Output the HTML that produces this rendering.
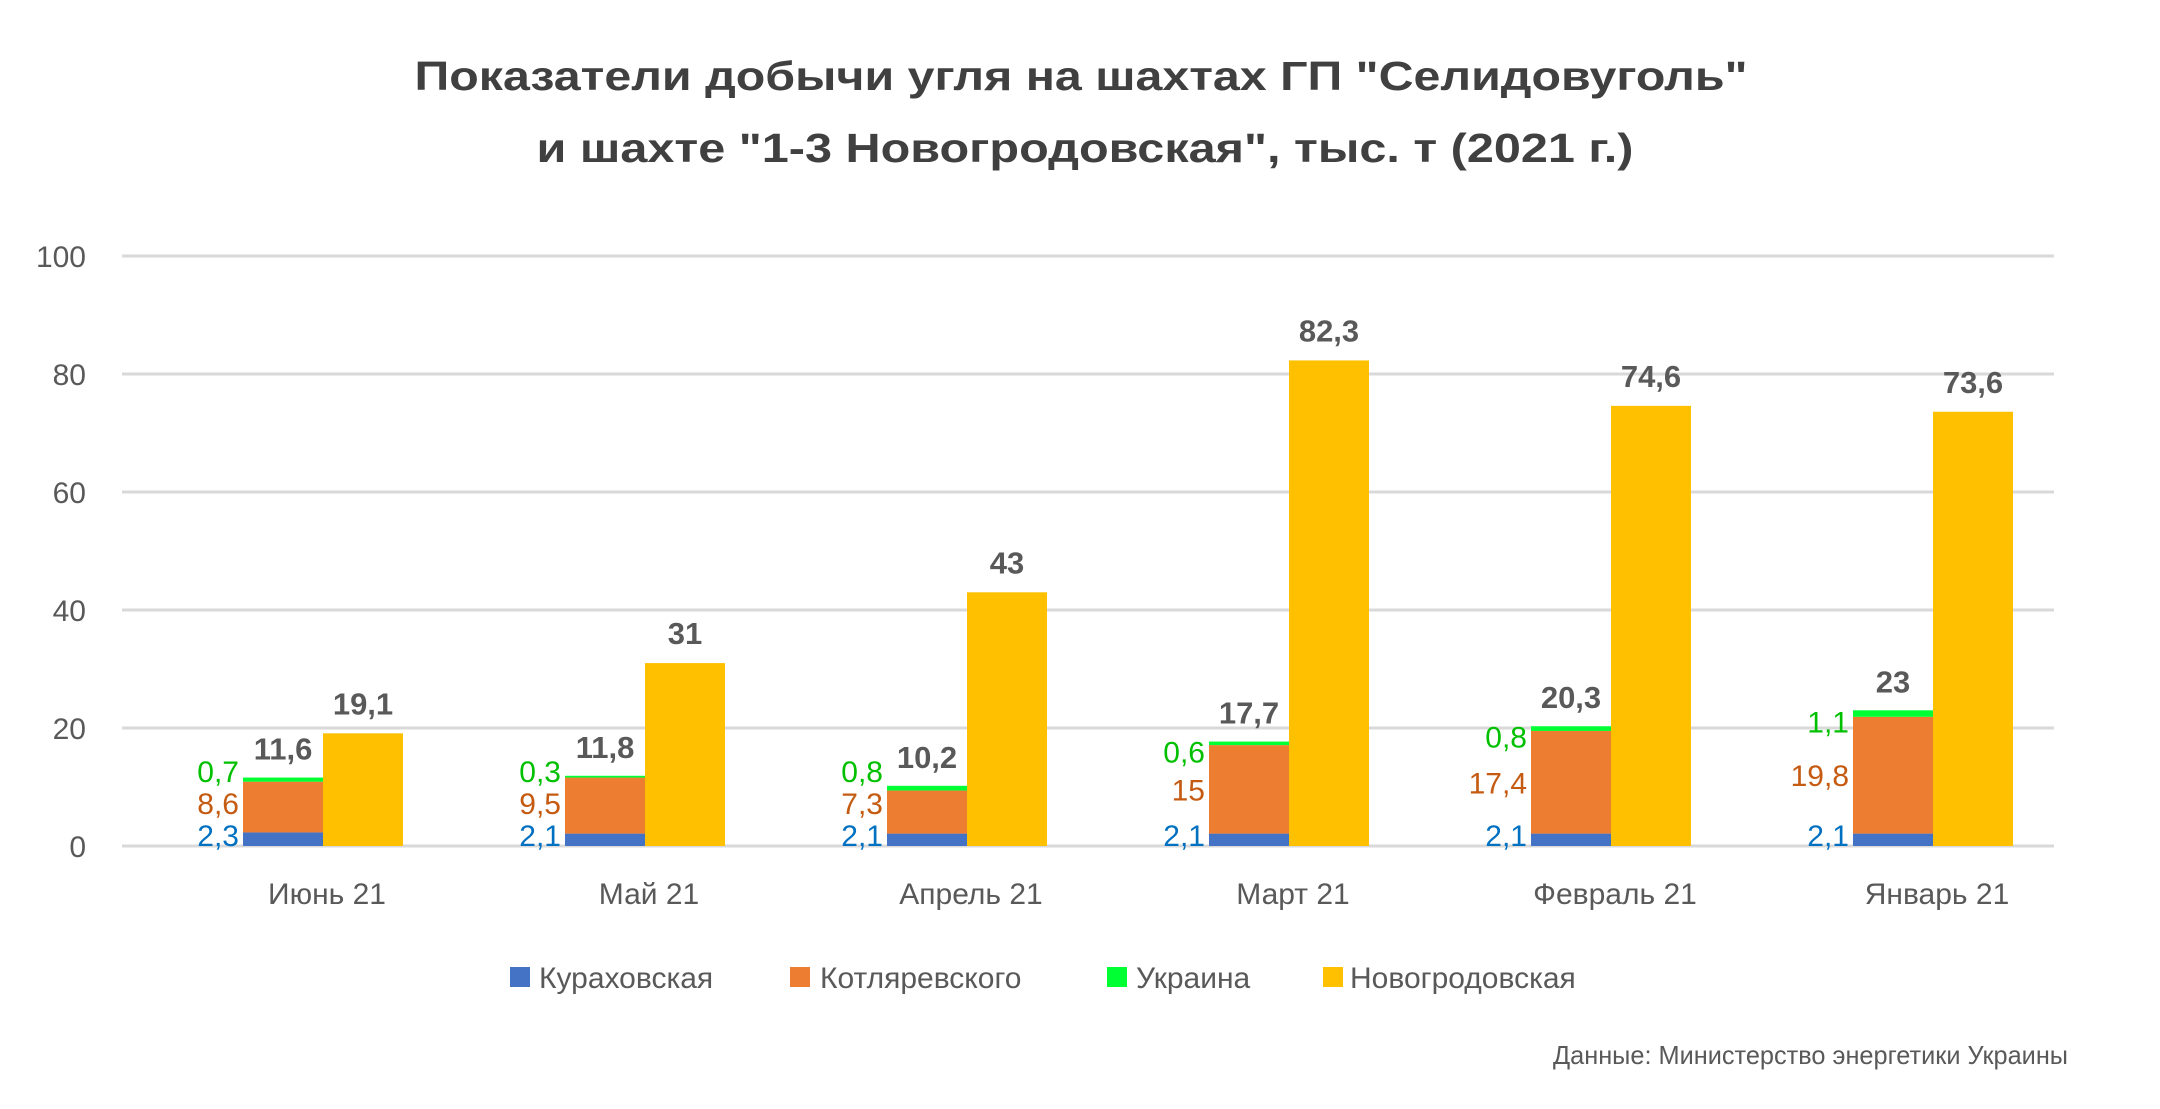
<!DOCTYPE html>
<html><head><meta charset="utf-8">
<style>
html,body{margin:0;padding:0;background:#fff;}
svg{display:block;font-family:"Liberation Sans",sans-serif;}
</style></head>
<body>
<svg id="chart" width="2160" height="1109" viewBox="0 0 2160 1109" xmlns="http://www.w3.org/2000/svg">
<rect width="2160" height="1109" fill="#fff"/>
<text x="1081" y="90" text-anchor="middle" font-size="41" font-weight="bold" fill="#404040" textLength="1333" lengthAdjust="spacingAndGlyphs">Показатели добычи угля на шахтах ГП "Селидовуголь"</text>
<text x="1085" y="162" text-anchor="middle" font-size="41" font-weight="bold" fill="#404040" textLength="1097" lengthAdjust="spacingAndGlyphs">и шахте "1-3 Новогродовская", тыс. т (2021 г.)</text>
<g id="grid"></g>
<g id="bars"></g>
<g id="labels"></g>
<g id="legend">
  <rect x="510" y="967" width="20" height="20" fill="#4472c4"/>
  <text x="539" y="988" font-size="30" fill="#595959">Кураховская</text>
  <rect x="790" y="967" width="20" height="20" fill="#ed7d31"/>
  <text x="820" y="988" font-size="30" fill="#595959">Котляревского</text>
  <rect x="1107" y="967" width="20" height="20" fill="#00ff33"/>
  <text x="1136" y="988" font-size="30" fill="#595959">Украина</text>
  <rect x="1323" y="967" width="20" height="20" fill="#ffc000"/>
  <text x="1350" y="988" font-size="30" fill="#595959">Новогродовская</text>
</g>
<text x="2068" y="1064" text-anchor="end" font-size="26" fill="#595959" textLength="515" lengthAdjust="spacingAndGlyphs">Данные: Министерство энергетики Украины</text>
</svg>
<script>
const categories = ["Июнь 21","Май 21","Апрель 21","Март 21","Февраль 21","Январь 21"];
const kurakhovskaya = [2.3,2.1,2.1,2.1,2.1,2.1];
const kotlyarevskogo = [8.6,9.5,7.3,15,17.4,19.8];
const ukraina = [0.7,0.3,0.8,0.6,0.8,1.1];
const stackTotals = ["11,6","11,8","10,2","17,7","20,3","23"];
const novogrodovskaya = [19.1,31,43,82.3,74.6,73.6];
const yTicks = [0,20,40,60,80,100];

const NS="http://www.w3.org/2000/svg";
const X0=122, X1=2054, Y0=846, Y100=256, BW=80;
const band=(X1-X0)/categories.length;
function y(v){return Y0-(v/100)*(Y0-Y100);}
function cx(i){return X0+band*i+201;}
function fmt(v){return String(v).replace('.',',');}
function mk(tag,attrs,parent,text){const e=document.createElementNS(NS,tag);for(const k in attrs)e.setAttribute(k,attrs[k]);if(text!==undefined)e.textContent=text;parent.appendChild(e);return e;}

const grid=document.getElementById('grid');
yTicks.forEach(t=>{
  const l=mk('line',{x1:X0,x2:X1,y1:y(t),y2:y(t),stroke:'#d9d9d9','stroke-width':3},grid);
  
  
  const tx=mk('text',{x:86,y:y(t)+11,'text-anchor':'end','font-size':30,fill:'#595959'},grid,String(t));
  
  
});

const bars=document.getElementById('bars'), labels=document.getElementById('labels');
categories.forEach((c,i)=>{
  const c0=cx(i), sl=c0-BW;
  const a=kurakhovskaya[i], b=kotlyarevskogo[i], g=ukraina[i], n=novogrodovskaya[i];
  const r1=mk('rect',{x:sl,y:y(a),width:BW,height:Y0-y(a),fill:'#4472c4'},bars);
  
  
  const r2=mk('rect',{x:sl,y:y(a+b),width:BW,height:y(a)-y(a+b),fill:'#ed7d31'},bars);
  
  
  const r3=mk('rect',{x:sl,y:y(a+b+g),width:BW,height:y(a+b)-y(a+b+g),fill:'#00ff33'},bars);
  
  
  const r4=mk('rect',{x:c0,y:y(n),width:BW,height:Y0-y(n),fill:'#ffc000'},bars);
  
  

  const lx=sl-4;
  const by=Y0-11;
  const oy=Math.min(y(a+b/2), by-32);
  const gy=Math.min(y(a+b+g/2)+8, oy-32);
  const t1=mk('text',{x:lx,y:by+11,'text-anchor':'end','font-size':30,fill:'#0070c0'},labels,fmt(a));
  
  
  const t2=mk('text',{x:lx,y:oy+11,'text-anchor':'end','font-size':30,fill:'#c55a11'},labels,fmt(b));
  
  
  const t3=mk('text',{x:lx,y:gy+11,'text-anchor':'end','font-size':30,fill:'#00c000'},labels,fmt(g));
  
  
  const t4=mk('text',{x:c0-BW/2,y:y(a+b+g)-18,'text-anchor':'middle','font-size':31,'font-weight':'bold',fill:'#595959'},labels,stackTotals[i]);
  
  
  const t5=mk('text',{x:c0+BW/2,y:y(n)-19,'text-anchor':'middle','font-size':31,'font-weight':'bold',fill:'#595959'},labels,fmt(n));
  
  
  const t6=mk('text',{x:c0+4,y:904,'text-anchor':'middle','font-size':30,fill:'#595959'},labels,c);
  
  
});
</script>
</body></html>
